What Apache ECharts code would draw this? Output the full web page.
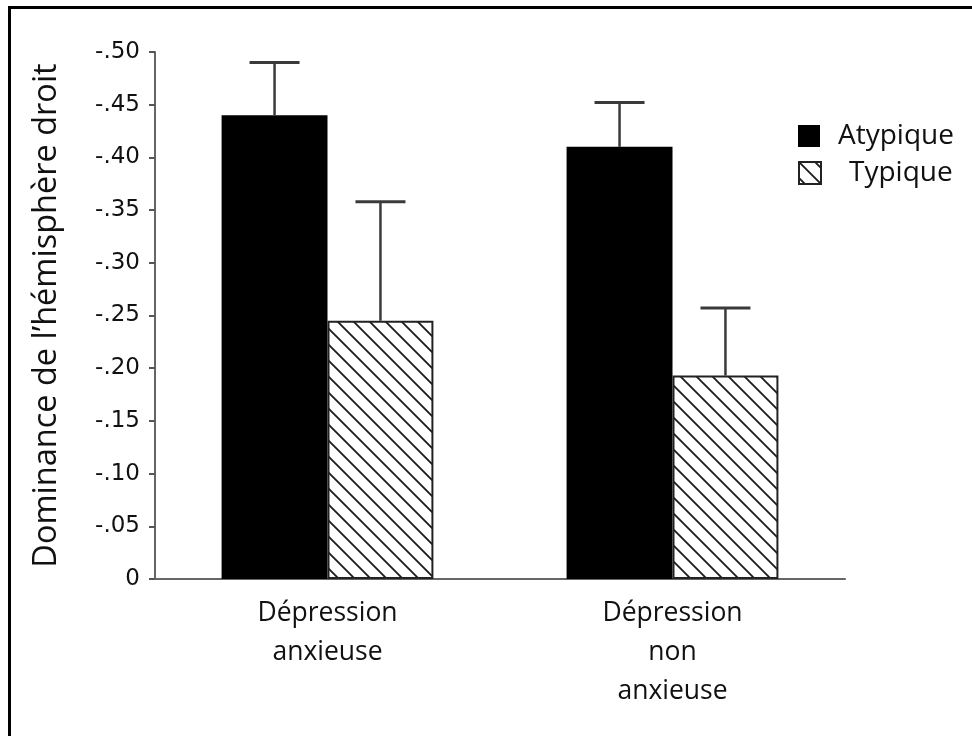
<!DOCTYPE html>
<html>
<head>
<meta charset="utf-8">
<script src="https://cdn.jsdelivr.net/npm/echarts@6/dist/echarts.min.js"></script>
<style>
html,body{margin:0;padding:0;background:#fff;}
#chart{width:972px;height:736px;}
</style>
</head>
<body>
<div id="chart"></div>
<script>
// ---- data ----
const categories = ['Dépression\nanxieuse', 'Dépression\nnon\nanxieuse'];
const seriesNames = ['Atypique', 'Typique'];
const atypiqueMean = [0.440, 0.410];
const atypiqueUpper = [0.490, 0.452];
const typiqueMean = [0.245, 0.193];
const typiqueUpper = [0.358, 0.257];
const yTicks = [0, 0.05, 0.10, 0.15, 0.20, 0.25, 0.30, 0.35, 0.40, 0.45, 0.50];

// ---- hatch pattern ----
function hatchPattern(size, lw) {
  const c = document.createElement('canvas');
  c.width = size; c.height = size;
  const g = c.getContext('2d');
  g.fillStyle = '#fff';
  g.fillRect(0, 0, size, size);
  g.strokeStyle = '#1a1a1a';
  g.lineWidth = lw;
  g.beginPath();
  g.moveTo(-2, -2); g.lineTo(size + 2, size + 2);
  g.moveTo(size - 4, -4); g.lineTo(size + 4, 4);
  g.moveTo(-4, size - 4); g.lineTo(4, size + 4);
  g.stroke();
  return c;
}
const hatch = { image: hatchPattern(16, 1.8), repeat: 'repeat' };

const BAR_FRAC = 0.307;

function errorRender(sideSign) {
  return function (params, api) {
    const cat = api.value(0);
    const band = api.size([1, 0])[0];
    const off = sideSign * band * BAR_FRAC / 2;
    const pLow = api.coord([cat, api.value(1)]);
    const pHigh = api.coord([cat, api.value(2)]);
    const x = pLow[0] + off;
    const capHalf = 25;
    return {
      type: 'group',
      children: [
        { type: 'line', shape: { x1: x, y1: pLow[1], x2: x, y2: pHigh[1] }, style: { stroke: '#3a3a3a', lineWidth: 2.5 } },
        { type: 'line', shape: { x1: x - capHalf, y1: pHigh[1], x2: x + capHalf, y2: pHigh[1] }, style: { stroke: '#3a3a3a', lineWidth: 3 } }
      ]
    };
  };
}

const chart = echarts.init(document.getElementById('chart'), null, { renderer: 'canvas' });

const legendText = { fontFamily: 'Open Sans', fontSize: 28, color: '#111' };

chart.setOption({
  animation: false,
  backgroundColor: '#fff',
  graphic: [{
    type: 'polyline',
    shape: { points: [[9.5, 740], [9.5, 7.5], [975, 7.5]] },
    style: { stroke: '#000', lineWidth: 3, fill: null },
    silent: true
  }],
  grid: { left: 155, right: 127, top: 52, bottom: 157 },
  legend: [
    {
      data: [seriesNames[0]], left: 793, top: 117, itemWidth: 22, itemHeight: 22, icon: 'rect',
      textStyle: Object.assign({ padding: [0, 0, 0, 13] }, legendText),
      selectedMode: false
    },
    {
      data: [seriesNames[1]], left: 793, top: 154, itemWidth: 22, itemHeight: 22, icon: 'rect',
      textStyle: Object.assign({ padding: [0, 0, 0, 23] }, legendText),
      selectedMode: false
    }
  ],
  xAxis: {
    type: 'category',
    data: categories,
    axisLine: { lineStyle: { color: '#666', width: 2 } },
    axisTick: { show: false },
    axisLabel: {
      margin: 15, fontFamily: 'Open Sans', fontSize: 26.5, lineHeight: 39, color: '#111'
    }
  },
  yAxis: {
    type: 'value',
    min: 0, max: 0.5, interval: 0.05,
    name: 'Dominance de l’hémisphère droit',
    nameLocation: 'middle',
    nameRotate: 90,
    nameGap: 92,
    nameTextStyle: { fontFamily: 'Open Sans', fontSize: 32.5, color: '#111' },
    splitLine: { show: false },
    axisLine: { show: true, lineStyle: { color: '#666', width: 2 } },
    axisTick: { show: true, length: 6, lineStyle: { color: '#555', width: 2 } },
    axisLabel: {
      margin: 15, fontFamily: 'DejaVu Sans', fontSize: 23, color: '#111',
      formatter: function (v) {
        const t = yTicks.find(function (k) { return Math.abs(k - v) < 1e-9; });
        const val = t === undefined ? v : t;
        if (Math.abs(val) < 1e-9) return '0';
        return '-' + val.toFixed(2).replace(/^0/, '');
      }
    }
  },
  series: [
    {
      name: seriesNames[0], type: 'bar', data: atypiqueMean,
      barWidth: (BAR_FRAC * 100) + '%', barGap: '0%',
      itemStyle: { color: '#000' }
    },
    {
      name: seriesNames[1], type: 'bar', data: typiqueMean,
      barWidth: (BAR_FRAC * 100) + '%', barGap: '0%',
      itemStyle: { color: hatch, borderColor: '#222', borderWidth: 2 }
    },
    {
      type: 'custom', name: 'errA', renderItem: errorRender(-1), z: 5,
      data: atypiqueMean.map(function (m, i) { return [i, m, atypiqueUpper[i]]; })
    },
    {
      type: 'custom', name: 'errT', renderItem: errorRender(1), z: 5,
      data: typiqueMean.map(function (m, i) { return [i, m, typiqueUpper[i]]; })
    }
  ]
});
</script>
</body>
</html>
